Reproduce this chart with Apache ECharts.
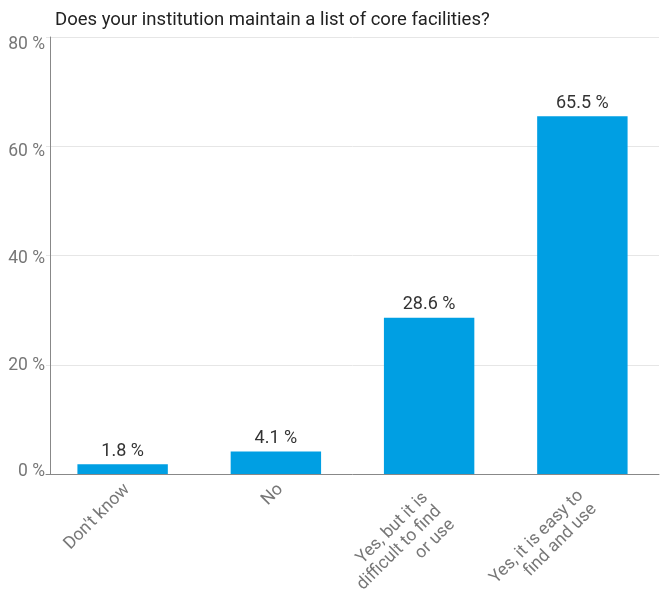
<!DOCTYPE html>
<html>
<head>
<meta charset="utf-8">
<title>Core facilities list</title>
<script src="https://cdn.jsdelivr.net/npm/echarts@6/dist/echarts.min.js"></script>
<style>
  html, body { margin: 0; padding: 0; background: #fff; }
  #chart { width: 660px; height: 592px; }
</style>
</head>
<body>
<div id="chart"></div>
<script>
// Survey answers and their share of respondents (%)
const categories = [
  "Don't know",
  "No",
  "Yes, but it is\ndifficult to find\nor use",
  "Yes, it is easy to\nfind and use"
];
const shares = [1.8, 4.1, 28.6, 65.5];
const yTicks = [0, 20, 40, 60, 80];

const FONT = 'Roboto, "Noto Sans", sans-serif';

// Wrapped (multi-line) labels sit a little further back along their slant
const categoryItems = categories.map(c => {
  const lines = c.split('\n').length;
  const back = lines === 1 ? 3 : (lines === 2 ? 12 : 15);
  return { value: c, textStyle: { verticalAlign: 'top', padding: [0, back, 0, 0] } };
});

const chart = echarts.init(document.getElementById('chart'));

chart.setOption({
  animation: false,
  textStyle: { fontFamily: FONT },
  title: {
    text: 'Does your institution maintain a list of core facilities?',
    left: 50,
    top: 6,
    textStyle: { fontFamily: FONT, fontSize: 18.5, fontWeight: 'normal', color: '#222' }
  },
  grid: [
    { left: 46, right: 1, top: 37, bottom: 118, outerBoundsMode: 'none' },
    { left: 50, right: 1, top: 45, bottom: 120, outerBoundsMode: 'none' }
  ],
  xAxis: [
    {
      type: 'category',
      gridIndex: 0,
      data: categoryItems,
      axisLine: { lineStyle: { color: '#888', width: 1 } },
      axisTick: { show: false },
      axisLabel: {
        interval: 0,
        rotate: 45,
        margin: 4,
        verticalAlign: 'top',
        fontFamily: FONT,
        fontSize: 17.5,
        lineHeight: 19,
        color: '#777'
      }
    },
    {
      type: 'category',
      gridIndex: 1,
      data: categories,
      show: false
    }
  ],
  yAxis: [
    {
      type: 'value',
      gridIndex: 0,
      min: yTicks[0],
      max: yTicks[yTicks.length - 1],
      interval: 20,
      offset: -4,
      axisLine: { show: true, lineStyle: { color: '#888', width: 1 } },
      axisTick: { show: false },
      axisLabel: { show: false },
      splitLine: { lineStyle: { color: '#e6e6e6', width: 1 } }
    },
    {
      // tick labels for the value axis
      type: 'value',
      gridIndex: 1,
      min: yTicks[0],
      max: yTicks[yTicks.length - 1],
      interval: 20,
      axisLine: { show: false },
      axisTick: { show: false },
      splitLine: { show: false },
      axisLabel: {
        margin: 5,
        fontFamily: FONT,
        fontSize: 17.5,
        color: '#777',
        formatter: '{value} %'
      }
    }
  ],
  series: [
    {
      type: 'bar',
      xAxisIndex: 0,
      yAxisIndex: 0,
      data: shares,
      barCategoryGap: '41%',
      itemStyle: { color: '#009fe3' },
      label: {
        show: true,
        position: 'top',
        distance: 4,
        fontFamily: FONT,
        fontSize: 18,
        color: '#333',
        formatter: p => p.value.toFixed(1) + ' %'
      }
    }
  ]
});
</script>
</body>
</html>
